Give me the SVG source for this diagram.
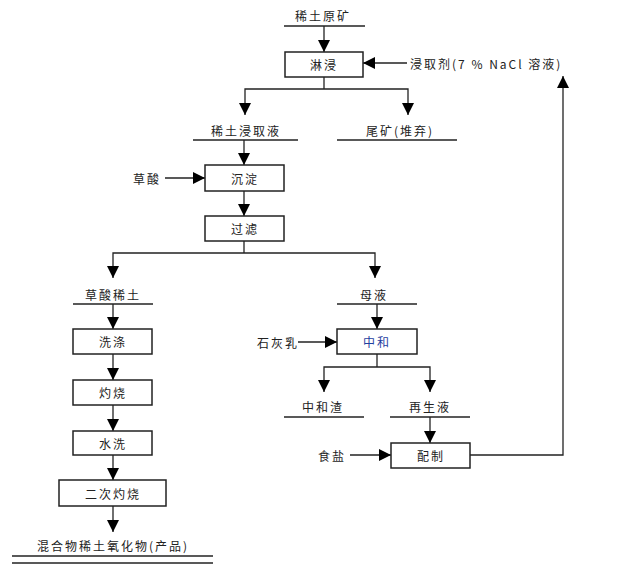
<svg xmlns="http://www.w3.org/2000/svg" width="625" height="573" viewBox="0 0 625 573">
<defs>
<marker id="ah" markerUnits="userSpaceOnUse" markerWidth="12" markerHeight="12" refX="12" refY="6" orient="auto">
<path d="M0,0 L12,6 L0,12 z" fill="#000"/>
</marker>
<style>
.box{fill:#fff;stroke:#222;stroke-width:1.5}
.ln{fill:none;stroke:#222;stroke-width:1.3}
.ar{fill:none;stroke:#222;stroke-width:1.3;marker-end:url(#ah)}
.t{font-family:"Noto Sans CJK SC","Liberation Serif",sans-serif;font-size:12px;letter-spacing:2px;fill:#222;text-anchor:middle;dominant-baseline:central}
.ts{text-anchor:start}
</style>
</defs>
<rect width="625" height="573" fill="#fff"/>
<g id="connectors">
<line class="ar" x1="324" y1="26" x2="324" y2="52"/>
<line class="ar" x1="407" y1="63" x2="363" y2="63"/>
<polyline class="ln" points="324,77 324,89"/>
<polyline class="ar" points="324,89 245,89 245,115"/>
<polyline class="ar" points="324,89 408,89 408,115"/>
<line class="ar" x1="244" y1="140" x2="244" y2="165"/>
<line class="ar" x1="165" y1="178" x2="205" y2="178"/>
<line class="ar" x1="244" y1="191" x2="244" y2="216"/>
<line class="ln" x1="244" y1="241" x2="244" y2="253"/>
<polyline class="ar" points="244,253 113,253 113,278"/>
<polyline class="ar" points="244,253 375,253 375,278"/>
<line class="ar" x1="113" y1="304" x2="113" y2="329"/>
<line class="ar" x1="113" y1="354" x2="113" y2="380"/>
<line class="ar" x1="113" y1="405" x2="113" y2="431"/>
<line class="ar" x1="113" y1="455" x2="113" y2="480"/>
<line class="ar" x1="113" y1="506" x2="113" y2="532"/>
<line class="ar" x1="377" y1="304" x2="377" y2="329"/>
<line class="ar" x1="298" y1="342" x2="337" y2="342"/>
<line class="ln" x1="377" y1="354" x2="377" y2="367"/>
<polyline class="ar" points="377,367 324,367 324,392"/>
<polyline class="ar" points="377,367 430,367 430,392"/>
<line class="ar" x1="430" y1="417" x2="430" y2="443"/>
<line class="ar" x1="350" y1="455" x2="391" y2="455"/>
<polyline class="ar" points="470,455 563,455 563,76"/>
</g>
<g id="n-ore"><text class="t" x="323" y="15">稀土原矿</text><line class="ln" x1="284" y1="26" x2="365" y2="26"/></g>
<g id="n-leach"><rect class="box" x="285" y="52" width="78" height="25"/><text class="t" x="324" y="64.500">淋浸</text></g>
<g id="n-agent"><text class="t ts" x="410" y="63">浸取剂(7 % NaCl 溶液)</text></g>
<g id="n-liquor"><text class="t" x="246" y="130">稀土浸取液</text><line class="ln" x1="193" y1="140" x2="298" y2="140"/></g>
<g id="n-tail"><text class="t" x="400" y="130">尾矿(堆弃)</text><line class="ln" x1="337" y1="140" x2="457" y2="140"/></g>
<g id="n-oxalic"><text class="t" x="147" y="178">草酸</text></g>
<g id="n-precip"><rect class="box" x="205" y="165" width="79" height="26"/><text class="t" x="245" y="178">沉淀</text></g>
<g id="n-filter"><rect class="box" x="205" y="216" width="79" height="25"/><text class="t" x="245" y="228.500">过滤</text></g>
<g id="n-oxre"><text class="t" x="113" y="294">草酸稀土</text><line class="ln" x1="73" y1="304" x2="153" y2="304"/></g>
<g id="n-wash"><rect class="box" x="73" y="329" width="79" height="25"/><text class="t" x="113" y="341.500">洗涤</text></g>
<g id="n-burn"><rect class="box" x="73" y="380" width="79" height="25"/><text class="t" x="113" y="392.500">灼烧</text></g>
<g id="n-water"><rect class="box" x="73" y="431" width="79" height="24"/><text class="t" x="113" y="443">水洗</text></g>
<g id="n-burn2"><rect class="box" x="59" y="480" width="107" height="26"/><text class="t" x="113" y="493">二次灼烧</text></g>
<g id="n-product"><text class="t" x="113" y="545">混合物稀土氧化物(产品)</text><line class="ln" x1="12" y1="556" x2="213" y2="556"/><line class="ln" x1="12" y1="563" x2="213" y2="563"/></g>
<g id="n-mother"><text class="t" x="374" y="294">母液</text><line class="ln" x1="337" y1="304" x2="417" y2="304"/></g>
<g id="n-lime"><text class="t" x="278" y="342">石灰乳</text></g>
<g id="n-neut"><rect class="box" x="337" y="329" width="80" height="25"/><text class="t" x="377" y="341.500" style="fill:#1f3f9f">中和</text></g>
<g id="n-slag"><text class="t" x="323" y="406">中和渣</text><line class="ln" x1="284" y1="417" x2="364" y2="417"/></g>
<g id="n-regen"><text class="t" x="430" y="406">再生液</text><line class="ln" x1="390" y1="417" x2="470" y2="417"/></g>
<g id="n-salt"><text class="t" x="332" y="455">食盐</text></g>
<g id="n-prep"><rect class="box" x="391" y="443" width="79" height="25"/><text class="t" x="431" y="455.500">配制</text></g>
</svg>
